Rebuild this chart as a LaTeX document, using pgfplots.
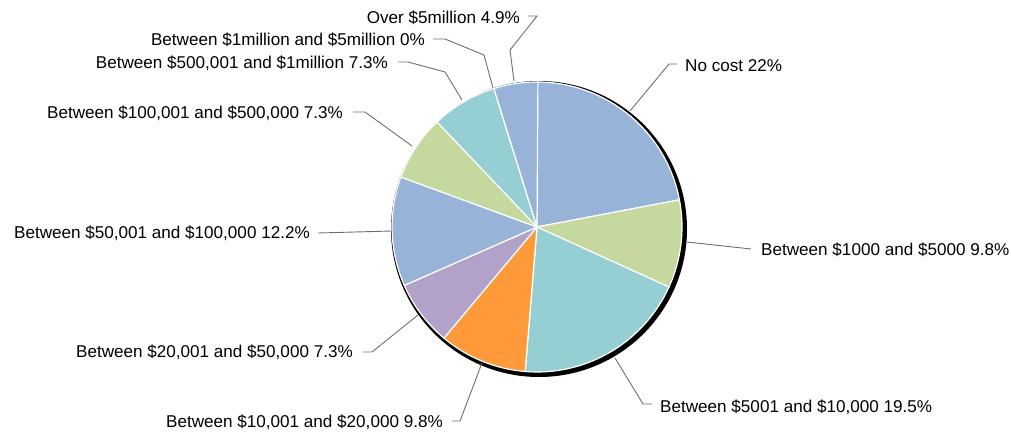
\documentclass[border=0pt]{standalone}
\usepackage{pgfplots}
\pgfplotsset{compat=1.18}
\usepackage{fontspec}
\setmainfont{Liberation Sans}
\definecolor{cb}{HTML}{97B3D8}
\definecolor{cg}{HTML}{C5D89D}
\definecolor{ct}{HTML}{95CED3}
\definecolor{co}{HTML}{FF9A3A}
\definecolor{cp}{HTML}{B2A1C8}
\definecolor{lead}{HTML}{6E6E6E}
\begin{document}
\begin{tikzpicture}[lbl/.style={font=\fontsize{17.1}{19}\selectfont, inner sep=0pt, text=black}]
\begin{axis}[x=1pt,y=1pt,xmin=0,xmax=1011,ymin=0,ymax=431,hide axis,clip=false,scale only axis]
\path (axis cs:0,0) rectangle (axis cs:1011,431);
\fill[black] (axis cs:539,202) circle[radius=148pt];
\def\cum{90}
\pgfplotsforeachungrouped \i in {0,1,2,3,4,5,6,7,8,9}{%
  \pgfmathparse{{22,9.8,19.5,9.8,7.3,12.2,7.3,7.3,0,4.9}[\i]}\let\v\pgfmathresult
  \pgfmathsetmacro\endang{\cum-3.6*\v}%
  \ifcase\i\relax \def\c{cb}\or\def\c{cg}\or\def\c{ct}\or\def\c{co}\or\def\c{cp}\or\def\c{cb}\or\def\c{cg}\or\def\c{ct}\or\def\c{co}\or\def\c{cb}\fi
  \edef\temp{\noexpand\filldraw[fill=\c, draw=white, line width=1.2pt, line join=round] (axis cs:537,204) -- ++(\cum:145pt) arc[start angle=\cum, end angle=\endang, radius=145pt] -- cycle;}%
  \temp
  \let\cum\endang
}
% leaders
\draw[lead, line width=0.9pt] (axis cs:630,320) -- (axis cs:669,367) -- (axis cs:677,367);
\draw[lead, line width=0.9pt] (axis cs:687,189) -- (axis cs:751,182);
\draw[lead, line width=0.9pt] (axis cs:615,73) -- (axis cs:643,27) -- (axis cs:652,27);
\draw[lead, line width=0.9pt] (axis cs:482,68) -- (axis cs:460,10) -- (axis cs:452,10);
\draw[lead, line width=0.9pt] (axis cs:418,116) -- (axis cs:372,79) -- (axis cs:363,79);
\draw[lead, line width=0.9pt] (axis cs:392,200) -- (axis cs:318,198);
\draw[lead, line width=0.9pt] (axis cs:412,285) -- (axis cs:365,319) -- (axis cs:353,319);
\draw[lead, line width=0.9pt] (axis cs:462,331) -- (axis cs:445,359) -- (axis cs:408,369) -- (axis cs:398,369);
\draw[lead, line width=0.9pt] (axis cs:493,343) -- (axis cs:484,376) -- (axis cs:445,392) -- (axis cs:433,392);
\draw[lead, line width=0.9pt] (axis cs:514,350) -- (axis cs:510,381) -- (axis cs:537,415) -- (axis cs:528,415);
% labels
\node[lbl, anchor=west] at (axis cs:685,365) {No cost 22\%};
\node[lbl, anchor=west] at (axis cs:761,181) {Between \$1000 and \$5000 9.8\%};
\node[lbl, anchor=west] at (axis cs:660,24) {Between \$5001 and \$10,000 19.5\%};
\node[lbl, anchor=east] at (axis cs:443,9) {Between \$10,001 and \$20,000 9.8\%};
\node[lbl, anchor=east] at (axis cs:353,79) {Between \$20,001 and \$50,000 7.3\%};
\node[lbl, anchor=east] at (axis cs:310,198) {Between \$50,001 and \$100,000 12.2\%};
\node[lbl, anchor=east] at (axis cs:343,318) {Between \$100,001 and \$500,000 7.3\%};
\node[lbl, anchor=east] at (axis cs:388,368) {Between \$500,001 and \$1million 7.3\%};
\node[lbl, anchor=east] at (axis cs:425,391) {Between \$1million and \$5million 0\%};
\node[lbl, anchor=east] at (axis cs:520,413) {Over \$5million 4.9\%};
\end{axis}
\end{tikzpicture}
\end{document}
